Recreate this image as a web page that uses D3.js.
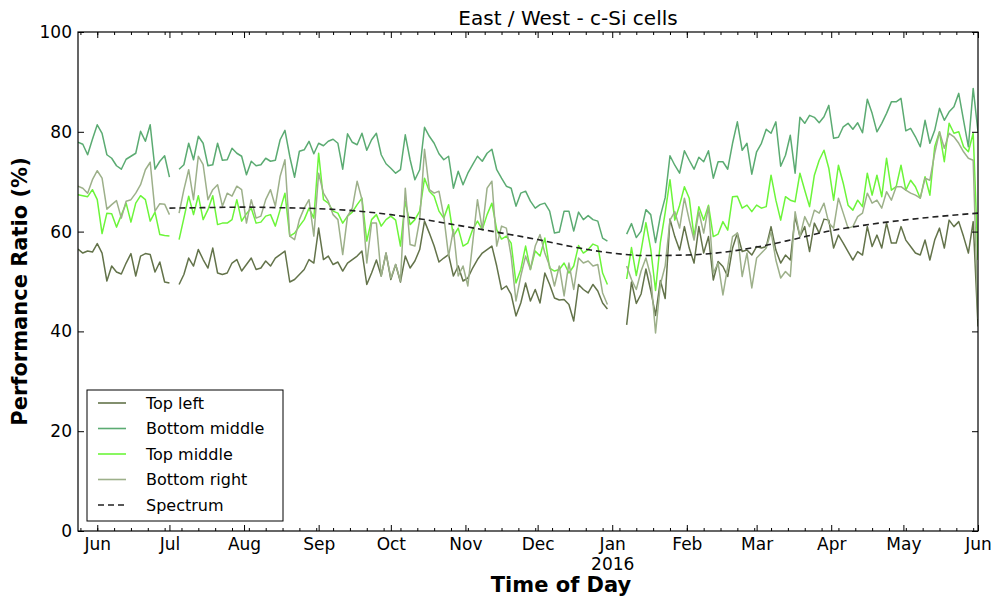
<!DOCTYPE html>
<html>
<head>
<meta charset="utf-8">
<script src="https://cdn.jsdelivr.net/npm/d3@7"></script>
<style>
  body { margin: 0; background: #fff; }
  text { font-family: "DejaVu Sans", sans-serif; fill: #000; }
</style>
</head>
<body>
<div id="wrapper"></div>
<script>
// each series is sampled every 2 days, in three runs with gaps between them
const segmentStarts = ["2015-05-24", "2015-07-05", "2016-01-07"];

const topLeft = [
  [56.5, 55.7, 56.1, 55.9, 57.6, 55.7, 50.1, 53.1, 51.9, 51.5, 53.7, 55.6, 51.1, 55.1, 55.6, 55.4, 51.9, 53.9, 49.9, 49.7],
  [49.4, 51.4, 54.7, 53.1, 56.4, 54.4, 52.7, 56.7, 51.7, 51.4, 51.7,
   53.7, 54.4, 52.1, 53.4, 54.7, 52.4, 52.7, 54.1, 53.1, 54.7, 55.4, 56.1, 49.9, 50.4, 51.4, 52.4, 54.4, 53.7, 60.7, 54.4, 55.1, 53.4, 53.9, 52.1, 53.7, 54.4, 55.1, 56.1, 49.4, 51.7,
   54.3, 51.1, 55.7, 50.4, 53.4, 49.9, 55.1, 52.7, 54.1, 56.4, 62.1, 59.7, 57.1, 53.9, 54.7, 55.4, 51.1, 53.1, 50.1, 50.7, 52.7, 54.4, 55.7, 56.4, 57.1, 53.1, 48.4, 49.1, 47.4, 43.1, 45.7,
   49.7, 46.1, 48.4, 45.7, 51.7, 49.4, 46.7, 46.3, 46.4, 45.4, 42.1, 49.4, 48.4, 47.7, 49.4, 48.1, 45.7, 44.5],
  [41.3, 49.9, 45.6, 47.5, 52.5, 48.2, 43.2, 50.2, 46.6, 62.5,
   59.0, 56.3, 61.0, 56.7, 53.7, 61.0, 55.7, 59.0, 50.3, 54.0, 53.0, 51.0, 56.7, 59.7, 56.0, 56.3, 55.3, 57.0, 56.7, 57.0, 61.0, 56.3, 53.7, 55.3, 54.3, 63.0, 59.0, 61.0, 56.0, 61.7, 59.7, 62.5,
   62.3, 56.7, 59.3, 57.7, 56.0, 54.3, 56.0, 55.3, 61.0, 57.0, 59.3, 56.7, 61.7, 57.7, 57.7, 61.0, 58.3, 57.0, 55.7, 55.3, 58.3, 54.3, 58.3, 60.7, 56.7, 62.3, 61.0, 62.0, 59.0, 55.7, 62.0, 41.0]
];

const bottomMiddle = [
  [77.9, 77.5, 75.4, 78.5, 81.4, 79.7, 75.4, 74.7, 73.2, 72.5, 74.5, 75.1, 75.7, 80.1, 78.1, 81.4, 72.5, 74.1, 75.2, 70.9],
  [72.5, 73.4, 77.7, 74.4, 79.1, 77.7, 73.2, 73.4, 77.7, 74.3, 74.4,
   76.7, 75.7, 75.1, 71.4, 74.1, 73.2, 73.4, 74.7, 74.1, 74.3, 78.4, 80.3, 75.1, 70.9, 76.1, 76.4, 78.1, 75.6, 77.7, 77.2, 78.1, 78.5, 77.7, 72.5, 79.6, 77.9, 77.4, 79.7, 76.3, 78.4,
   79.7, 75.4, 73.6, 72.7, 71.7, 72.4, 79.4, 74.4, 70.4, 72.4, 80.9, 79.1, 77.7, 75.6, 74.4, 75.1, 68.7, 72.1, 69.4, 71.7, 73.4, 75.1, 74.1, 75.7, 76.5, 72.4, 70.7, 69.1, 68.7, 65.1, 67.7,
   68.1, 66.1, 64.7, 65.4, 65.7, 64.1, 59.7, 59.9, 64.1, 64.1, 60.1, 63.9, 62.4, 63.2, 62.4, 62.1, 58.7, 58.1],
  [59.5, 61.6, 58.8, 60.1, 64.4, 63.4, 57.8, 63.1, 66.8, 75.2,
   73.3, 71.7, 76.2, 74.3, 72.5, 74.9, 74.0, 76.2, 70.7, 74.0, 74.0, 72.5, 77.7, 82.0, 76.3, 77.7, 71.5, 76.0, 77.7, 80.5, 79.7, 82.0, 73.1, 75.3, 79.3, 71.7, 82.9, 81.7, 83.3, 82.9, 81.8, 83.0,
   85.3, 78.7, 78.9, 81.0, 81.7, 80.5, 81.8, 79.8, 86.5, 83.7, 80.0, 81.7, 83.7, 86.0, 86.0, 86.7, 80.2, 80.7, 79.0, 77.0, 82.3, 77.7, 80.3, 84.7, 82.3, 84.0, 85.0, 87.7, 82.3, 77.0, 88.7, 80.0]
];

const topMiddle = [
  [67.4, 67.2, 67.0, 68.4, 66.4, 59.6, 63.7, 63.6, 60.9, 63.3, 65.7, 61.9, 65.7, 67.2, 66.4, 62.1, 63.9, 59.4, 59.2, 59.1],
  [58.4, 62.7, 67.1, 63.4, 67.2, 62.4, 64.4, 67.2, 61.4, 61.7, 61.7,
   62.4, 66.4, 62.1, 63.6, 64.7, 61.7, 61.9, 63.1, 63.4, 61.1, 64.4, 67.7, 59.1, 59.7, 61.1, 62.4, 64.7, 62.7, 75.7, 66.4, 65.7, 64.1, 63.7, 61.7, 63.1, 63.9, 65.4, 66.7, 58.1, 62.4,
   63.4, 61.1, 62.4, 63.1, 62.3, 57.1, 66.1, 61.4, 62.4, 64.1, 70.7, 68.1, 67.1, 64.1, 62.7, 65.4, 59.1, 60.7, 57.1, 57.7, 60.4, 62.1, 60.4, 63.4, 65.7, 60.4, 58.5, 59.1, 57.7, 49.7, 52.4,
   57.1, 52.4, 56.1, 55.1, 58.7, 52.7, 52.1, 52.4, 53.7, 51.7, 53.1, 57.2, 55.7, 56.4, 57.5, 57.1, 51.7, 49.4],
  [50.5, 56.8, 51.2, 56.2, 61.8, 56.5, 48.2, 57.8, 63.8, 70.4,
   62.3, 65.3, 69.0, 66.7, 59.0, 65.0, 62.3, 65.3, 59.0, 59.5, 62.0, 60.3, 67.0, 67.1, 64.7, 65.3, 64.0, 65.3, 64.7, 65.0, 71.3, 66.3, 62.3, 67.0, 66.3, 66.0, 71.7, 68.3, 65.0, 71.3, 74.3, 76.3,
   72.7, 66.3, 73.3, 69.7, 65.3, 64.3, 66.3, 65.0, 71.7, 67.3, 71.3, 67.0, 74.7, 68.3, 69.0, 73.3, 68.3, 70.3, 69.0, 66.7, 71.0, 67.3, 77.0, 80.0, 74.0, 81.7, 79.7, 80.0, 77.0, 76.0, 79.7, 54.3]
];

const bottomRight = [
  [69.1, 68.7, 67.7, 70.4, 72.2, 70.7, 64.5, 65.4, 66.2, 62.7, 66.1, 66.4, 67.7, 69.4, 72.4, 73.9, 64.1, 65.6, 65.5, 63.4],
  [63.7, 68.4, 72.4, 66.4, 75.1, 73.4, 66.4, 68.4, 69.4, 65.1, 67.7,
   67.1, 69.1, 68.4, 61.7, 66.4, 62.7, 63.1, 66.4, 68.4, 65.1, 71.1, 74.4, 59.1, 58.4, 62.4, 64.7, 66.4, 59.1, 71.7, 67.7, 66.1, 63.4, 62.4, 55.4, 63.1, 64.7, 70.1, 66.4, 53.7, 61.7,
   61.7, 51.1, 55.7, 50.7, 53.4, 50.1, 68.7, 57.4, 57.1, 62.4, 76.5, 68.4, 67.7, 68.1, 63.1, 55.1, 60.4, 51.1, 53.1, 49.1, 57.7, 66.4, 60.4, 68.7, 70.1, 57.1, 61.1, 60.7, 55.1, 46.1, 51.1,
   55.1, 52.4, 57.1, 59.4, 55.7, 53.1, 49.1, 53.1, 47.1, 53.7, 48.4, 54.7, 53.7, 54.1, 53.1, 53.4, 47.7, 45.4],
  [53.1, 50.4, 48.4, 52.1, 54.7, 51.1, 39.7, 49.4, 53.1, 62.3,
   64.0, 60.7, 66.7, 62.3, 58.3, 64.0, 59.7, 65.0, 51.7, 53.7, 47.3, 53.0, 59.0, 59.7, 51.0, 55.7, 48.7, 54.7, 55.7, 56.7, 60.0, 54.3, 50.7, 52.0, 51.0, 64.0, 59.0, 63.0, 61.0, 64.3, 63.7, 65.7,
   61.7, 60.7, 66.7, 63.7, 60.7, 61.0, 63.0, 63.7, 67.7, 65.7, 66.3, 64.7, 68.0, 66.3, 69.0, 69.0, 68.3, 67.7, 67.3, 66.7, 70.7, 70.3, 75.7, 80.0, 76.7, 79.7, 79.0, 77.7, 76.0, 74.7, 74.3, 42.5]
];

const spectrumDates = ["2015-07-01", "2015-07-15", "2015-08-01", "2015-08-15", "2015-09-01", "2015-09-15",
  "2015-10-01", "2015-10-15", "2015-11-01", "2015-11-15", "2015-12-01", "2015-12-15",
  "2016-01-01", "2016-01-15", "2016-02-01", "2016-02-15", "2016-03-01", "2016-03-15",
  "2016-04-01", "2016-04-15", "2016-05-01", "2016-05-15", "2016-06-01"];
const spectrum = [64.7, 64.8, 64.9, 64.8, 64.6, 64.2, 63.4, 62.4, 61.0, 59.8, 58.4, 57.0,
  55.7, 55.2, 55.3, 55.8, 56.9, 58.3, 60.2, 61.3, 62.3, 63.0, 63.7];

const seriesNames = ["Top left", "Bottom middle", "Top middle", "Bottom right"];
const seriesColors = ["#63734a", "#5bab72", "#6cf53a", "#9db08a"];
const yTicks = [0, 20, 40, 60, 80, 100];

var parseDate = d3.timeParse("%Y-%m-%d");

var dimension = {
    width: 995,
    height: 600,
    margin: { top: 32, right: 17, bottom: 69, left: 78 }
}
dimension.boundedWidth = dimension.width - dimension.margin.left - dimension.margin.right;
dimension.boundedHeight = dimension.height - dimension.margin.top - dimension.margin.bottom;

const svg = d3.select("#wrapper")
    .append("svg")
    .attr("width", dimension.width)
    .attr("height", dimension.height)

const bounds = svg.append("g")
    .attr("transform", `translate(${dimension.margin.left},${dimension.margin.top})`)

var xScale = d3.scaleTime()
    .domain([parseDate("2015-05-24"), parseDate("2016-06-01")])
    .range([0, dimension.boundedWidth])

var yScale = d3.scaleLinear()
    .domain([0, 100])
    .range([dimension.boundedHeight, 0])

// turn the runs into {date, value} points
function toPoints(runs) {
    return runs.map((run, r) => {
        var start = parseDate(segmentStarts[r]);
        return run.map((v, k) => ({ date: d3.timeDay.offset(start, 2 * k), value: v }));
    })
}

var line = d3.line()
    .x(d => xScale(d.date))
    .y(d => yScale(d.value))

bounds.append("clipPath").attr("id", "plotclip")
    .append("rect")
    .attr("width", dimension.boundedWidth)
    .attr("height", dimension.boundedHeight)

const lines = bounds.append("g").attr("clip-path", "url(#plotclip)")

const allSeries = [topLeft, bottomMiddle, topMiddle, bottomRight];
allSeries.forEach((runs, i) => {
    lines.selectAll(null)
        .data(toPoints(runs))
        .enter()
        .append("path")
        .attr("fill", "none")
        .attr("stroke", seriesColors[i])
        .attr("stroke-width", 1.5)
        .attr("stroke-linejoin", "round")
        .attr("d", line)
})

var spectrumPoints = spectrumDates.map((d, i) => ({ date: parseDate(d), value: spectrum[i] }));
lines.append("path")
    .datum(spectrumPoints)
    .attr("fill", "none")
    .attr("stroke", "#222")
    .attr("stroke-width", 1.6)
    .attr("stroke-dasharray", "6,4")
    .attr("d", line.curve(d3.curveMonotoneX))
line.curve(d3.curveLinear)

// axes: ticks pointing inward on all four sides
var months = d3.timeMonth.range(parseDate("2015-06-01"), parseDate("2016-06-02"));
var weeks = d3.timeMonday.range(parseDate("2015-05-24"), parseDate("2016-06-01"));

const xg = bounds.append("g")
    .attr("class", "xmajor")
    .attr("transform", `translate(0,${dimension.boundedHeight})`)
    .call(d3.axisBottom(xScale)
        .tickValues(months)
        .tickSize(-6)
        .tickPadding(7)
        .tickFormat(d3.timeFormat("%b")))
bounds.append("g")
    .attr("transform", `translate(0,${dimension.boundedHeight})`)
    .call(d3.axisBottom(xScale).tickValues(weeks).tickSize(-3).tickFormat(""))
bounds.append("g").call(d3.axisTop(xScale).tickValues(months).tickSize(-6).tickFormat(""))
bounds.append("g").call(d3.axisTop(xScale).tickValues(weeks).tickSize(-3).tickFormat(""))

bounds.append("g").call(d3.axisLeft(yScale).tickValues(yTicks).tickSize(-6).tickPadding(6))
bounds.append("g")
    .attr("transform", `translate(${dimension.boundedWidth},0)`)
    .call(d3.axisRight(yScale).tickValues(yTicks).tickSize(-6).tickFormat(""))

bounds.selectAll(".domain").remove()
bounds.selectAll(".tick line").attr("stroke", "#000")
bounds.selectAll(".tick text")
    .style("font-family", "DejaVu Sans")
    .style("font-size", "17px")
    .attr("fill", "#000")

// year under January
xg.selectAll(".tick")
    .filter(d => d.getMonth() == 0)
    .select("text")
    .append("tspan")
    .attr("x", 0)
    .attr("dy", "1.15em")
    .text(d => d.getFullYear())

bounds.append("rect")
    .attr("width", dimension.boundedWidth)
    .attr("height", dimension.boundedHeight)
    .attr("fill", "none")
    .attr("stroke", "#000")
    .attr("stroke-width", 1.2)

// titles
svg.append("text")
    .attr("x", 568)
    .attr("y", 25)
    .attr("text-anchor", "middle")
    .style("font-size", "20px")
    .text("East / West - c-Si cells")

svg.append("text")
    .attr("x", 561)
    .attr("y", 592)
    .attr("text-anchor", "middle")
    .style("font-size", "21px")
    .style("font-weight", "bold")
    .text("Time of Day")

svg.append("text")
    .attr("transform", `translate(27,${dimension.margin.top + dimension.boundedHeight / 2 + 10}) rotate(-90)`)
    .attr("text-anchor", "middle")
    .style("font-size", "21px")
    .style("font-weight", "bold")
    .text("Performance Ratio (%)")

// legend
const legendItems = seriesNames.map((n, i) => ({ name: n, color: seriesColors[i], dash: null }))
    .concat([{ name: "Spectrum", color: "#222", dash: "6,4" }]);

const legend = bounds.append("g").attr("transform", "translate(9,358)")
legend.append("rect")
    .attr("width", 196)
    .attr("height", 131)
    .attr("fill", "#fff")
    .attr("stroke", "#000")
    .attr("stroke-width", 1)

var legendRow = legend.selectAll("g.item")
    .data(legendItems)
    .enter()
    .append("g")
    .attr("class", "item")
    .attr("transform", (d, i) => `translate(0,${13 + i * 25.5})`)
legendRow.append("line")
    .attr("x1", 11).attr("x2", 39)
    .attr("stroke", d => d.color)
    .attr("stroke-width", 1.6)
    .attr("stroke-dasharray", d => d.dash)
legendRow.append("text")
    .attr("x", 59)
    .attr("dy", "0.35em")
    .style("font-size", "16px")
    .text(d => d.name)
</script>
</body>
</html>
